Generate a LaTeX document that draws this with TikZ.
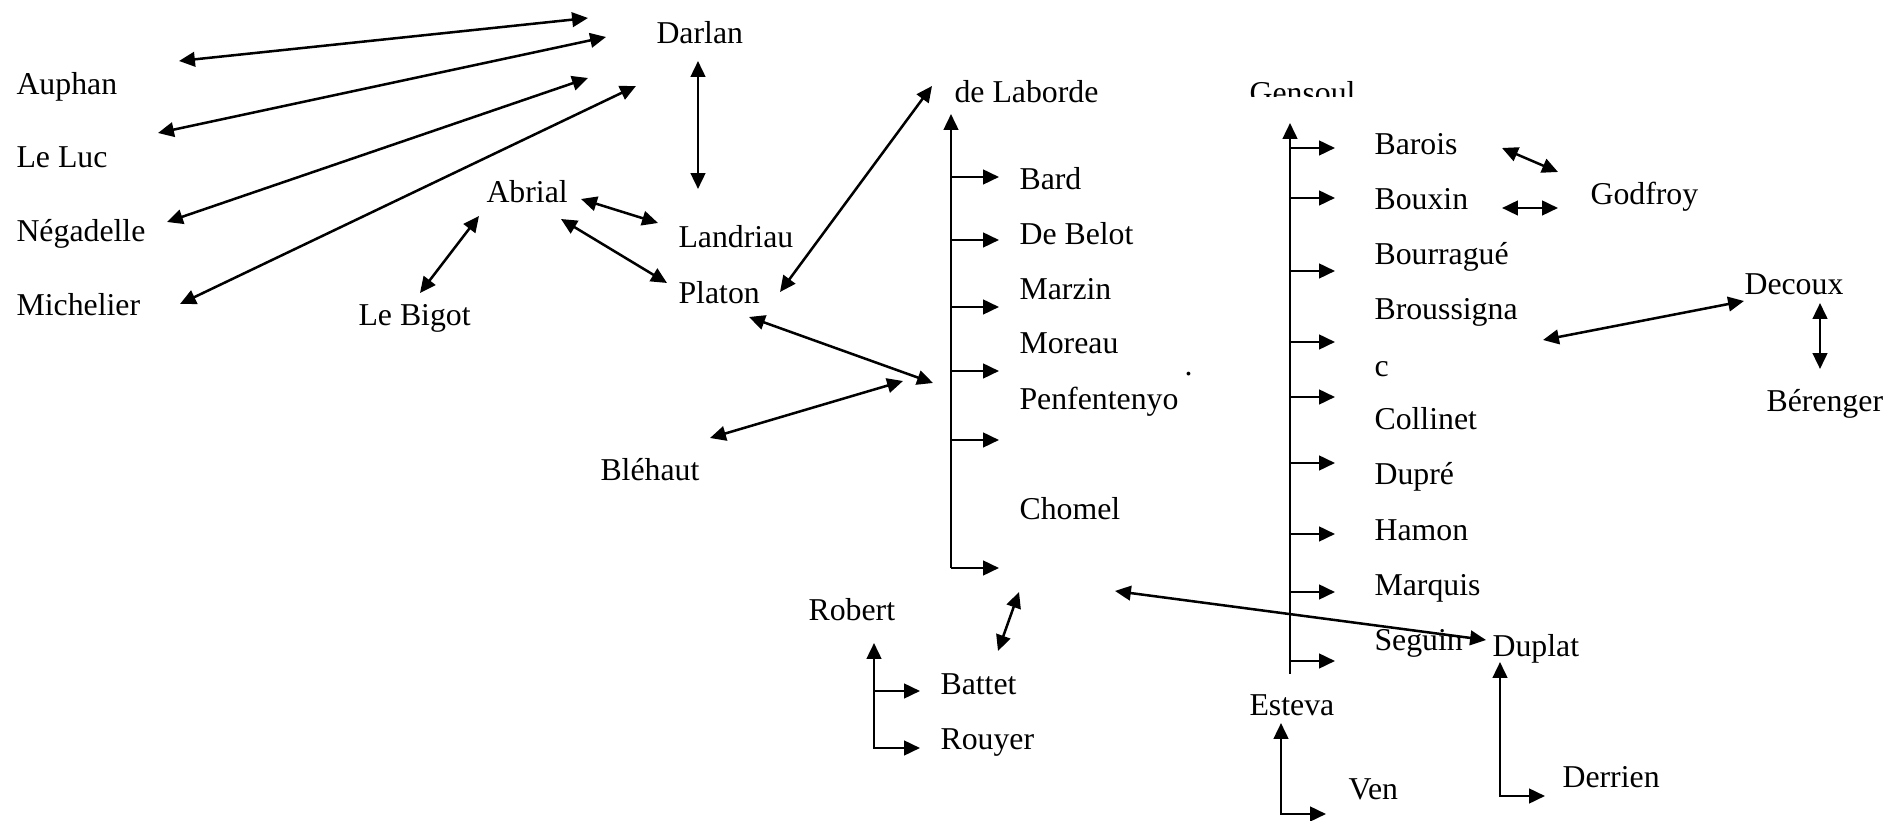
\documentclass[tikz,border=0pt]{standalone}
\usepackage{fontspec}
\setmainfont{Liberation Serif}
\usetikzlibrary{arrows.meta}

\begin{document}
\begin{tikzpicture}[
    x=0.3774pt, y=-0.3774pt,
    person/.style={anchor=base west, inner sep=0pt, yshift=-0.9pt, font=\fontsize{12pt}{14pt}\selectfont},
    link/.style={line width=0.95pt, {Triangle[length=6pt,width=5.5pt]}-{Triangle[length=6pt,width=5.5pt]}},
    branch/.style={line width=0.95pt, -{Triangle[length=6pt,width=5.5pt]}}
]
\useasboundingbox (0,0) rectangle (1888,821);

% names, left group
\node[person] (darlan) at (656,41) {Darlan};
\node[person] (auphan) at (16,92) {Auphan};
\node[person] (leluc) at (16,165) {Le Luc};
\node[person] (negadelle) at (16,239) {Négadelle};
\node[person] (michelier) at (16,313) {Michelier};
\node[person] (abrial) at (486,200) {Abrial};
\node[person] (landriau) at (678,245) {Landriau};
\node[person] (platon) at (678,301) {Platon};
\node[person] (lebigot) at (358,323) {Le Bigot};
\node[person] (blehaut) at (600,478) {Bléhaut};

% names, de Laborde column
\node[person] (laborde) at (954,100) {de Laborde};
\node[person] (bard) at (1019,187) {Bard};
\node[person] (debelot) at (1019,242) {De Belot};
\node[person] (marzin) at (1019,297) {Marzin};
\node[person] (moreau) at (1019,351) {Moreau};
\node[person] (penfentenyo) at (1019,407) {Penfentenyo};
\node[person] (chomel) at (1019,517) {Chomel};
\node[person] (dot) at (1184,373) {.};

% names, Gensoul column
\begin{scope}
\clip (1240,60) rectangle (1370,97);
\node[person] (gensoul) at (1249,101) {Gensoul};
\end{scope}
\node[person] (barois) at (1374,152) {Barois};
\node[person] (bouxin) at (1374,207) {Bouxin};
\node[person] (bourrague) at (1374,262) {Bourragué};
\node[person] (broussigna) at (1374,317) {Broussigna};
\node[person] (broussc) at (1374,374) {c};
\node[person] (collinet) at (1374,427) {Collinet};
\node[person] (dupre) at (1374,482) {Dupré};
\node[person] (hamon) at (1374,538) {Hamon};
\node[person] (marquis) at (1374,593) {Marquis};
\node[person] (seguin) at (1374,648) {Seguin};
\node[person] (godfroy) at (1590,202) {Godfroy};
\node[person] (decoux) at (1744,292) {Decoux};
\node[person] (berenger) at (1766,409) {Bérenger};

% names, bottom
\node[person] (robert) at (808,618) {Robert};
\node[person] (battet) at (940,692) {Battet};
\node[person] (rouyer) at (940,747) {Rouyer};
\node[person] (esteva) at (1249,713) {Esteva};
\node[person] (ven) at (1348,797) {Ven};
\node[person] (duplat) at (1492,654) {Duplat};
\node[person] (derrien) at (1562,785) {Derrien};

% arrow ends
\coordinate (auphanE) at (179,61);   \coordinate (darlanA) at (588,18);
\coordinate (lelucE) at (158,133);   \coordinate (darlanB) at (606,37);
\coordinate (negadelleE) at (167,222); \coordinate (darlanC) at (588,78);
\coordinate (michelierE) at (180,304); \coordinate (darlanD) at (636,86);
\coordinate (darlanS) at (698,61);   \coordinate (landriauN) at (698,189);
\coordinate (abrialE) at (581,199);  \coordinate (landriauW) at (658,223);
\coordinate (abrialSE) at (561,219); \coordinate (platonW) at (667,283);
\coordinate (abrialSW) at (479,216); \coordinate (lebigotN) at (420,293);
\coordinate (platonE) at (780,292);  \coordinate (labordeW) at (932,86);
\coordinate (platonS) at (749,317);  \coordinate (labordeM) at (933,383);
\coordinate (blehautE) at (710,438); \coordinate (labordeL) at (903,381);
\coordinate (labBot) at (951,568);   \coordinate (labTop) at (951,114);
\coordinate (chomelS) at (1019,592); \coordinate (battetN) at (998,651);
\coordinate (chomelE) at (1115,591); \coordinate (duplatW) at (1486,640);
\coordinate (genBot) at (1290,674);  \coordinate (genTop) at (1290,123);
\coordinate (baroisE) at (1502,148); \coordinate (godfroyA) at (1558,172);
\coordinate (bouxinE) at (1502,208); \coordinate (godfroyB) at (1558,208);
\coordinate (broussE) at (1543,340); \coordinate (decouxW) at (1744,301);
\coordinate (decouxS) at (1820,303); \coordinate (berengerN) at (1820,369);
\coordinate (robTop) at (874,643);   \coordinate (robBot) at (874,748);
\coordinate (estTop) at (1281,723);  \coordinate (estBot) at (1281,814);
\coordinate (dupTop) at (1500,662);  \coordinate (dupBot) at (1500,796);

% Darlan and his staff
\draw[link] (auphanE) -- (darlanA);
\draw[link] (lelucE) -- (darlanB);
\draw[link] (negadelleE) -- (darlanC);
\draw[link] (michelierE) -- (darlanD);
\draw[link] (darlanS) -- (landriauN);
\draw[link] (abrialE) -- (landriauW);
\draw[link] (abrialSE) -- (platonW);
\draw[link] (abrialSW) -- (lebigotN);
\draw[link] (platonE) -- (labordeW);
\draw[link] (platonS) -- (labordeM);
\draw[link] (blehautE) -- (labordeL);

% de Laborde column
\draw[branch] (labBot) -- (labTop);
\foreach \y in {177,240,307,371,440,568}
    \draw[branch] (labTop |- 0,\y) -- ++(48,0);
\draw[link] (chomelS) -- (battetN);
\draw[link] (chomelE) -- (duplatW);

% Gensoul column
\draw[branch] (genBot) -- (genTop);
\foreach \y in {148,198,271,342,397,463,534,592,661}
    \draw[branch] (genTop |- 0,\y) -- ++(45,0);
\draw[link] (baroisE) -- (godfroyA);
\draw[link] (bouxinE) -- (godfroyB);
\draw[link] (broussE) -- (decouxW);
\draw[link] (decouxS) -- (berengerN);

% bottom groups
\draw[link] (robBot) ++(46,0) -- (robBot) -- (robTop);
\draw[branch] (robTop |- 0,691) -- ++(46,0);
\draw[link] (estBot) ++(45,0) -- (estBot) -- (estTop);
\draw[link] (dupBot) ++(45,0) -- (dupBot) -- (dupTop);
\end{tikzpicture}
\end{document}
